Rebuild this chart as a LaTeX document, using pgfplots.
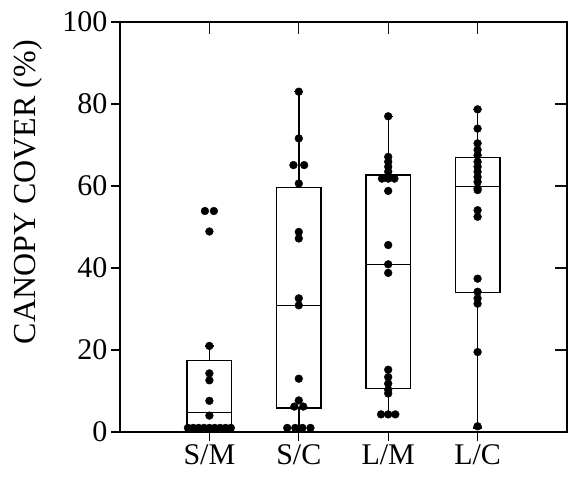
\documentclass[border=0pt]{standalone}
\usepackage{pgfplots}
\pgfplotsset{compat=1.18}
\usepgfplotslibrary{statistics}
\usepackage{fontspec}
\setmainfont{Liberation Serif}
\definecolor{tk}{RGB}{15,15,15}
\begin{document}
\begin{tikzpicture}
\begin{axis}[scale only axis, width=447pt, height=410pt, anchor=south west, at={(0,0)},
  xmin=0, xmax=5, ymin=0, ymax=100,
  xtick={1,2,3,4}, ytick={20,40,60,80},
  xticklabels={}, yticklabels={},
  xtick pos=right, ytick pos=right,
  tick align=inside,
  major tick length=12pt,
  axis line style={line width=1.1pt},
  every tick/.append style={line width=1.3pt, tk},
]
\addplot[draw=none, forget plot] coordinates {(0,0) (5,100)};
\end{axis}
\begin{axis}[scale only axis, width=447pt, height=410pt, anchor=south west, at={(0,0)},
  xmin=0, xmax=5, ymin=0, ymax=100,
  xtick={1,2,3,4}, xticklabels={S/M,S/C,L/M,L/C},
  ytick={0,20,40,60,80,100},
  tick align=outside, xtick pos=left, ytick pos=left,
  major tick length=9pt,
  axis line style={line width=1.1pt},
  every tick/.append style={line width=1.1pt, black},
  tick label style={font=\fontsize{30}{32}\selectfont},
  /pgf/number format/assume math mode=true,
  ylabel={CANOPY COVER (\%)},
  ylabel style={font=\fontsize{32}{34}\selectfont, at={(axis description cs:-0.206,0.585)}, anchor=center},
  clip=false,
  boxplot/draw direction=y,
  boxplot/every median/.style={line width=0.8pt},
]
\addplot[black, line width=1.4pt, boxplot prepared={draw position=1, lower whisker=0, lower quartile=0, median=4.7, upper quartile=17.5, upper whisker=21, box extend=0.5, whisker extend=0.1}] coordinates {};
\addplot[black, line width=1.4pt, boxplot prepared={draw position=2, lower whisker=0.5, lower quartile=5.9, median=30.8, upper quartile=59.6, upper whisker=83, box extend=0.5, whisker extend=0.1}] coordinates {};
\addplot[black, line width=1.4pt, boxplot prepared={draw position=3, lower whisker=4.3, lower quartile=10.6, median=40.9, upper quartile=62.7, upper whisker=77, box extend=0.5, whisker extend=0.1}] coordinates {};
\addplot[black, line width=1.4pt, boxplot prepared={draw position=4, lower whisker=1, lower quartile=34, median=60, upper quartile=67, upper whisker=78.7, box extend=0.5, whisker extend=0.1}] coordinates {};
% S/M
\addplot[only marks, mark=*, mark size=3.9pt, black] coordinates {
(0.76,1) (0.82,1) (0.88,1) (0.94,1) (1.0,1) (1.06,1) (1.12,1) (1.18,1) (1.24,1)
(1,4.0) (1,7.6) (1,12.6) (1,14.3) (1,21) (1,48.9) (0.95,53.9) (1.05,53.9)};
% S/C
\addplot[only marks, mark=*, mark size=3.9pt, black] coordinates {
(1.87,1) (1.96,1) (2.04,1) (2.13,1)
(1.95,6.2) (2.05,6.2) (2,7.7) (2,13) (2,30.9) (2,32.6) (2,47.2) (2,48.8)
(2,60.6) (1.94,65.1) (2.06,65.1) (2,71.6) (2,83)};
% L/M
\addplot[only marks, mark=*, mark size=3.9pt, black] coordinates {
(2.92,4.3) (3,4.3) (3.08,4.3)
(3,9.4) (3,10.3) (3,11.8) (3,13.4) (3,15.2) (3,38.8) (3,40.9) (3,45.6) (3,58.8)
(2.93,61.8) (3,61.8) (3.07,61.8) (3,63.5) (3,64.7) (3,65.9) (3,67.1) (3,77)};
% L/C
\addplot[only marks, mark=*, mark size=3.9pt, black] coordinates {
(4,1.4) (4,19.5) (4,31.3) (4,32.6) (4,34.2) (4,37.4) (4,52.5) (4,54.1) (4,59) (4,59.4)
(4,61) (4,62.2) (4,63.5) (4,64.7) (4,65.9) (4,67.5) (4,68.8) (4,70.4) (4,74) (4,78.7)};
\end{axis}
\pgfresetboundingbox
\path (-120pt,-46.3pt) rectangle (449pt,432pt);
\end{tikzpicture}
\end{document}
